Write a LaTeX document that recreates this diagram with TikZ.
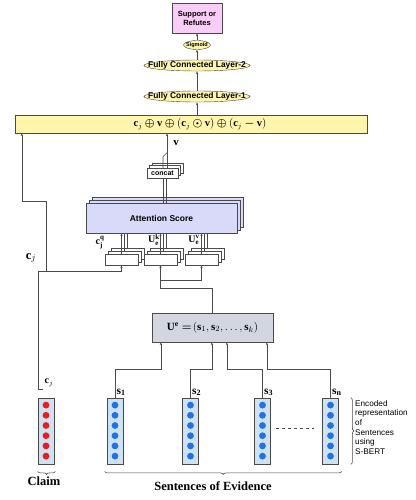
\documentclass[tikz,border=0pt]{standalone}
\usepackage{fontspec}
\setmainfont{Liberation Serif}
\setsansfont{Liberation Sans}
\usepackage{amsmath,amssymb}
\usetikzlibrary{shapes.geometric, arrows.meta, positioning, calc, decorations.pathreplacing}
\definecolor{OutPink}{HTML}{F9CDF7}
\definecolor{LayerYellow}{HTML}{FFF6AE}
\definecolor{AttnLavender}{HTML}{D9D9FA}
\definecolor{EncGray}{HTML}{D2D7DF}
\definecolor{VecBlue}{HTML}{CFE2F3}
\definecolor{DotRed}{HTML}{EE1B1B}
\definecolor{DotBlue}{HTML}{1C74E8}
\definecolor{LineGray}{HTML}{4A4A4A}
\newcommand{\bop}[1]{\mathbin{\boldsymbol{#1}}}
\tikzset{
  % Box styles
  outbox/.style={rectangle, draw=LineGray, fill=OutPink, minimum width=50pt, minimum height=30pt, inner sep=0pt, font=\sffamily\bfseries\fontsize{7.5}{9}\selectfont, align=center},
  layerellipse/.style={ellipse, draw=LineGray, fill=LayerYellow, minimum width=106pt, minimum height=11pt, inner sep=0pt},
  concatbar/.style={rectangle, draw=LineGray, fill=LayerYellow, minimum width=352pt, minimum height=18pt, inner sep=0pt},
  attnbox/.style={rectangle, draw=LineGray, fill=AttnLavender, minimum width=151pt, minimum height=30pt, inner sep=0pt, font=\sffamily\bfseries\fontsize{8.5}{10}\selectfont},
  catbox/.style={rectangle, draw=LineGray, fill=white, minimum width=31pt, minimum height=10pt, inner sep=0pt, font=\sffamily\bfseries\fontsize{7}{8}\selectfont},
  inbox/.style={rectangle, draw=LineGray, fill=white, minimum width=33pt, minimum height=11pt, inner sep=0pt},
  encbox/.style={rectangle, draw=LineGray, fill=EncGray, minimum width=121pt, minimum height=29pt, inner sep=0pt, font=\fontsize{11}{13}\selectfont},
  vecbox/.style={rectangle, draw=LineGray, fill=VecBlue, line width=0.8pt, minimum width=16pt, minimum height=66pt, inner sep=0pt},
  % Text styles
  lbl/.style={inner sep=0pt, font=\sffamily\bfseries\fontsize{8.4}{10}\selectfont},
  mathlbl/.style={inner sep=0pt, font=\fontsize{10}{12}\selectfont},
  captionlbl/.style={inner sep=0pt, font=\bfseries\fontsize{12.5}{14}\selectfont},
  annot/.style={inner sep=0pt, font=\sffamily\fontsize{8.2}{9.7}\selectfont, align=left},
  % Arrow styles
  arrow/.style={-{Stealth[length=3pt,width=2.2pt]}, LineGray, line width=0.6pt},
  link/.style={LineGray, line width=0.6pt},
  brace/.style={decorate, decoration={brace, amplitude=3pt}, LineGray, line width=0.6pt}
}

\begin{document}
\begin{tikzpicture}[x=1pt, y=-1pt]
  \useasboundingbox (0,0) rectangle (415,500);

  % Output column
  \node[outbox] (out) at (197,18) {Support or\\Refutes};
  \node[layerellipse, minimum width=27pt, minimum height=9pt] (sig) at (197,45) {};
  \node[lbl, font=\sffamily\bfseries\fontsize{5.5}{6}\selectfont] (siglbl) at (sig) {Sigmoid};
  \node[layerellipse] (fc2) at (197,65.5) {};
  \node[lbl] (fc2lbl) at (fc2) {Fully Connected Layer-2};
  \node[layerellipse] (fc1) at (197,96.5) {};
  \node[lbl] (fc1lbl) at (fc1) {Fully Connected Layer-1};
  \node[concatbar] (cat) at (191,124) {};
  \node[mathlbl, font=\fontsize{10.5}{12}\selectfont] (catlbl) at (200,124) {$\mathbf{c}_j \bop\oplus \mathbf{v} \bop\oplus (\mathbf{c}_j \bop\odot \mathbf{v}) \bop\oplus (\mathbf{c}_j \bop- \mathbf{v})$};

  \draw[arrow] (sig) -- (out);
  \draw[arrow] (fc2) -- (sig);
  \draw[arrow] (fc1) -- (fc2);
  \draw[arrow] (cat.north -| fc1) -- (fc1);

  % Attention and concat stacks
  \foreach \k in {2,1}
    \node[attnbox] (att\k) at (161.5+3*\k, 218-3*\k) {};
  \node[attnbox] (att) at (161.5,218) {Attention Score};
  \foreach \k in {2,1}
    \node[catbox] (cc\k) at (162.5+2.5*\k, 173-2.5*\k) {};
  \node[catbox] (cc) at (162.5,173) {concat};

  \foreach \dx in {0.5,3.5}
    \draw[link] ($(cc.south)+(\dx,0)$) -- ($(cc.south |- att.north)+(\dx,0)$);
  \coordinate (vout) at ($(cc.north)+(4.5,0)$);
  \draw[link] ($(cc.north)+(0.5,0)$) -- ++(0,-11) -- ++(4,-4);
  \draw[arrow] (vout) -- (vout |- cat.south);
  \node[mathlbl, font=\fontsize{11}{12}\selectfont] (vlbl) at (176,143) {$\mathbf{v}$};

  % Query, key and value inputs
  \foreach \name/\x in {q/121.5, k/160.5, v/201.5} {
    \foreach \k in {2,1}
      \node[inbox] (\name\k) at (\x+3*\k, 259.5-3*\k) {};
    \node[inbox] (\name) at (\x,259.5) {};
  }
  \foreach \name in {q,k,v} {
    \draw[arrow] (\name.north) -- (\name.north |- att.south);
    \foreach \k in {1,2}
      \draw[link] (\name\k.north) -- (\name\k.north |- att.south);
  }
  \node[mathlbl] (qlbl) at (100,243) {$\mathbf{c}_{\mathbf{j}}^{\mathbf{q}}$};
  \node[mathlbl] (klbl) at (154,240) {$\mathbf{U}_{\mathbf{e}}^{\mathbf{k}}$};
  \node[mathlbl] (vlblb) at (194,240) {$\mathbf{U}_{\mathbf{e}}^{\mathbf{v}}$};

  % Sentence encoding
  \node[encbox] (enc) at (212.5,327.5) {$\mathbf{U}^{\mathbf{e}} \mathrel{\boldsymbol{=}}\! \left(\mathbf{s}_1, \mathbf{s}_2, \ldots, \mathbf{s}_k\right)$};
  \coordinate (split) at (0,280);
  \draw[arrow] (enc.north) -- ++(0,-25) -| (k.south);
  \draw[arrow] (k.south |- split) -| (v.south);

  % Claim and sentence vectors
  \node[vecbox] (claim) at (46,431) {};
  \foreach \i in {0,...,5}
    \fill[DotRed] ($(claim.north)+(0,7.5+10.2*\i)$) circle (3.4pt);
  \foreach \name/\x/\sub in {s1/115/1, s2/190.5/2, s3/262.5/3, sn/330.5/n} {
    \node[vecbox] (\name) at (\x,431) {};
    \foreach \i in {0,...,5}
      \fill[DotBlue] ($(\name.north)+(0,7.5+10.2*\i)$) circle (3.4pt);
    \node[mathlbl, font=\fontsize{11.5}{12}\selectfont, anchor=south west] (\name lbl) at ($(\name.north)+(1.5,-1.5)$) {$\mathbf{s}_{\mathbf{\sub}}$};
  }
  \draw[dashed, LineGray, line width=0.5pt] ($(s3.east)+(5,-3)$) -- ($(sn.west)+(-8,-3)$);

  % Sentences into the encoder
  \coordinate (bus) at (0,369);
  \draw[arrow] (s1.north) -- (s1.north |- bus) -| ($(enc.south west)+(9,0)$);
  \draw[arrow] (s2.north) -- (s2.north |- bus) -| ($(enc.south west)+(60,0)$);
  \draw[arrow] (s3.north) -- (s3.north |- bus) -| ($(enc.south west)+(75,0)$);
  \draw[arrow] (sn.north) -- (sn.north |- bus) -| ($(enc.south west)+(115,0)$);

  % Claim into the query and the top layer
  \coordinate (ctick) at ($(claim.north)+(-3,-8)$);
  \coordinate (cjsplit) at ($(claim.north)+(0,-126)$);
  \draw[arrow] (ctick) -- ++(-5,0) |- (cjsplit) -| (q.south);
  \draw[arrow] (cjsplit) -- ++(0,-70) -| ($(cat.south west)+(7,0)$);
  \node[mathlbl] (cjlow) at (49,383) {$\mathbf{c}_j$};
  \node[mathlbl, font=\fontsize{12.5}{14}\selectfont] (cjhigh) at (31,258) {$\mathbf{c}_j$};

  % Braces and captions
  \draw[brace, decoration={mirror}] ($(claim.south west)+(0,7)$) -- ($(claim.south east)+(1,7)$);
  \node[captionlbl] (claimlbl) at (44,481) {Claim};
  \draw[brace, decoration={mirror}] ($(s1.south west)+(-2,7)$) -- ($(sn.south east)+(3,7)$);
  \node[captionlbl] (evlbl) at (213,486) {Sentences of Evidence};
  \draw[brace] ($(sn.north east)+(12,0)$) -- ($(sn.south east)+(12,0)$);
  \node[annot, anchor=north west] (sbert) at (355,400) {Encoded\\representation\\of\\Sentences\\using\\S-BERT};
\end{tikzpicture}
\end{document}
